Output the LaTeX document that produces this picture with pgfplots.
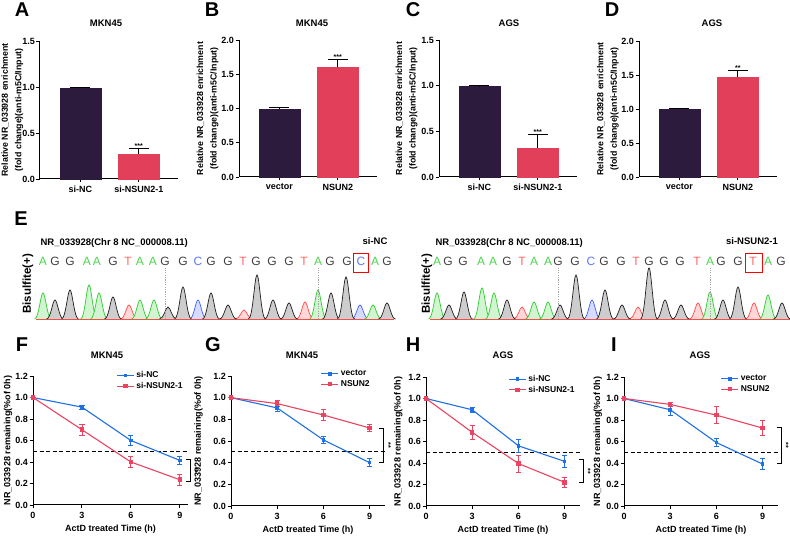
\documentclass[border=0pt]{standalone}
\usepackage{fontspec}
\setmainfont{Liberation Sans}
\usepackage{pgfplots}
\pgfplotsset{compat=1.18}

\definecolor{barDark}{HTML}{2D1B3E}
\definecolor{barRed}{HTML}{E2405A}
\definecolor{lnBlue}{HTML}{1F6FE5}
\definecolor{lnRed}{HTML}{EB4461}
\definecolor{chA}{HTML}{2ECC2E}
\definecolor{chC}{HTML}{4060FF}
\definecolor{chG}{HTML}{1E1E1E}
\definecolor{chT}{HTML}{FF4A4A}

\newcommand\fs[1]{\fontsize{#1}{#1}\selectfont}

% one chromatogram peak; its height is the mark size of the point
\pgfdeclareplotmark{peak}{%
  \pgfpathmoveto{\pgfqpoint{-8.5pt}{0pt}}%
  \pgfpathcurveto{\pgfqpoint{-4.2pt}{0pt}}{\pgfqpoint{-2.4pt}{\pgfplotmarksize}}{\pgfqpoint{0pt}{\pgfplotmarksize}}%
  \pgfpathcurveto{\pgfqpoint{2.4pt}{\pgfplotmarksize}}{\pgfqpoint{4.2pt}{0pt}}{\pgfqpoint{8.5pt}{0pt}}%
  \pgfusepathqfillstroke}

\pgfplotsset{
  panel/.style={
    scale only axis, anchor=south west, clip=false,
    axis lines*=left, axis line style={line width=1pt},
    tick align=outside, major tick length=3.5pt,
    tick style={black, line width=0.9pt},
    ymin=0,
    /pgf/number format/assume math mode=true,
    tick label style={font=\bfseries\fs{9}},
    yticklabel style={inner sep=1.5pt, /pgf/number format/fixed, /pgf/number format/fixed zerofill,
      /pgf/number format/precision=1},
  },
  enrich/.style={panel,
    width=138pt, xmin=0.31, xmax=2.67, xtick={1,2},
    ylabel={Relative NR\_033928 enrichment\\(fold change)(anti-m5C/Input)},
    ylabel style={align=center, anchor=center, font=\bfseries\fontsize{8.8}{13.5}\selectfont},
    error bars/y dir=plus, error bars/y explicit,
    error bars/error bar style={black, line width=0.9pt},
    error bars/error mark options={black, rotate=90, mark size=10pt, line width=0.9pt},
  },
  decay/.style={panel,
    width=154pt, xmin=0, xmax=10, ymax=1.2,
    xtick={0,3,6,9}, ytick={0,0.2,0.4,0.6,0.8,1.0,1.2},
    xlabel={ActD treated Time (h)},
    ylabel={NR\_033928 remaining(\%of 0h)},
    xlabel style={at={(axis description cs:0.5,0)}, anchor=center, yshift=-24pt, font=\bfseries\fs{9}},
    ylabel style={anchor=center, font=\bfseries\fs{9}},
    legend style={draw=none, fill=none, anchor=north east, font=\bfseries\fs{8.5},
      inner sep=0pt, row sep=-1pt},
    legend cell align=left,
  },
  eb/.style={error bars/y dir=both, error bars/y explicit,
    error bars/error bar style={line width=0.8pt},
    error bars/error mark options={rotate=90, mark size=2.6pt, line width=0.8pt}},
  blueline/.style={lnBlue, line width=1.1pt, mark=square*, mark size=1.2pt, eb},
  redline/.style={lnRed, line width=1.1pt, mark=square*, mark size=1.7pt, eb},
  halfline/.style={black, line width=1pt, dash pattern=on 4pt off 2.5pt, forget plot},
  peaks/.style={scatter, only marks, mark=peak,
    point meta=\thisrow{h}, point meta min=0, point meta max=60,
    scatter/use mapped color={draw=#1, fill=#1!22, line width=0.7pt},
    visualization depends on={\thisrow{h} \as \ph},
    scatter/@pre marker code/.append style={/tikz/mark size=\ph}},
}

\begin{document}
\begin{tikzpicture}
\path[use as bounding box] (0pt,0pt) rectangle (790pt,537pt);

% panel letters
\foreach \px/\py/\lt in {22/527/A, 212/527/B, 413/527/C, 612/527/D, 21/318/E,
    22/192/F, 213/192/G, 413/192/H, 614/192/I}
  \node[font=\bfseries\fs{20}] at (\px pt,\py pt) {\lt};
% panel titles
\foreach \px/\py/\tt in {106/514/MKN45, 312/514/MKN45, 509/514/AGS, 712/514/AGS,
    107/182/MKN45, 302/182/MKN45, 503/182/AGS, 700/182/AGS}
  \node[font=\bfseries\fs{9.5}] at (\px pt,\py pt) {\tt};

% ---------- A ----------
\begin{axis}[enrich, at={(40pt,358pt)}, height=138pt, ymax=1.5, ytick={0,0.5,1,1.5},
  xticklabels={si-NC,si-NSUN2-1},
  ylabel style={at={(axis description cs:-0.2,0.5)}}]
\addplot[ybar, bar width=41pt, fill=barDark, draw=barDark] coordinates {(1,0.99) +- (0,0.01)};
\addplot[ybar, bar width=41pt, fill=barRed, draw=barRed] coordinates {(2,0.27) +- (0,0.06)};
\node[anchor=base, font=\bfseries\fs{7}] at (axis cs:2,0.33) {***};
\end{axis}

% ---------- B ----------
\begin{axis}[enrich, at={(239pt,360pt)}, height=137pt, ymax=2, ytick={0,0.5,1,1.5,2},
  xticklabels={vector,NSUN2},
  ylabel style={at={(axis description cs:-0.228,0.5)}}]
\addplot[ybar, bar width=41pt, fill=barDark, draw=barDark] coordinates {(1,0.99) +- (0,0.02)};
\addplot[ybar, bar width=41pt, fill=barRed, draw=barRed] coordinates {(2,1.61) +- (0,0.10)};
\node[anchor=base, font=\bfseries\fs{7}] at (axis cs:2,1.71) {***};
\end{axis}

% ---------- C ----------
\begin{axis}[enrich, at={(439pt,360pt)}, height=137pt, ymax=1.5, ytick={0,0.5,1,1.5},
  xticklabels={si-NC,si-NSUN2-1},
  ylabel style={at={(axis description cs:-0.235,0.5)}}]
\addplot[ybar, bar width=41pt, fill=barDark, draw=barDark] coordinates {(1,0.99) +- (0,0.01)};
\addplot[ybar, bar width=41pt, fill=barRed, draw=barRed] coordinates {(2,0.32) +- (0,0.15)};
\node[anchor=base, font=\bfseries\fs{7}] at (axis cs:2,0.47) {***};
\end{axis}

% ---------- D ----------
\begin{axis}[enrich, at={(639pt,360pt)}, height=136pt, ymax=2, ytick={0,0.5,1,1.5,2},
  xticklabels={vector,NSUN2},
  ylabel style={at={(axis description cs:-0.225,0.5)}}]
\addplot[ybar, bar width=41pt, fill=barDark, draw=barDark] coordinates {(1,1.00) +- (0,0.01)};
\addplot[ybar, bar width=41pt, fill=barRed, draw=barRed] coordinates {(2,1.47) +- (0,0.10)};
\node[anchor=base, font=\bfseries\fs{7}] at (axis cs:2,1.57) {**};
\end{axis}

% ---------- E : chromatograms ----------
\begin{axis}[at={(0pt,218pt)}, anchor=south west, x=1pt, y=1pt,
  xmin=0, xmax=790, ymin=0, ymax=60, hide axis, clip=false]
\addplot[peaks=chT] table[x=x, y expr=0] {
x h
129 14
244 9
305 17
522 12
638 12
698 16
754 16
};
\addplot[peaks=chC] table[x=x, y expr=0] {
x h
198 19
360 14
592 19
};
\addplot[peaks=chA] table[x=x, y expr=0] {
x h
43 26
89 34
99 26
140 19
154 19
318 29
373 14
437 26
482 31
494 26
534 17
548 17
710 27
768 24
};
\addplot[peaks=chG] table[x=x, y expr=0] {
x h
55 19
70 29
113 22
168 12
183 32
211 26
228 14
257 44
273 19
289 16
331 26
346 42
387 16
449 14
464 27
507 19
560 14
576 44
605 29
622 14
649 51
665 19
681 14
723 19
738 32
782 16
};
\addplot[chT, line width=0.8pt] coordinates {(36,0) (394,0)};
\addplot[chT, line width=0.8pt] coordinates {(430,0) (790,0)};
\end{axis}

% sequence reads
\foreach \x/\c/\l in {43/chA/A, 55/chG/G, 70/chG/G, 87/chA/A, 97/chA/A, 113/chG/G,
    128/chT/T, 140/chA/A, 153/chA/A, 165/chG/G, 183/chG/G, 198/chC/C, 211/chG/G,
    228/chG/G, 243/chT/T, 256/chG/G, 272/chG/G, 289/chG/G, 304/chT/T, 318/chA/A,
    330/chG/G, 347/chG/G, 361/chC/C, 375/chA/A, 387/chG/G,
    437/chA/A, 448/chG/G, 463/chG/G, 481/chA/A, 493/chA/A, 507/chG/G,
    522/chT/T, 534/chA/A, 548/chA/A, 558/chG/G, 575/chG/G, 591/chC/C, 604/chG/G,
    621/chG/G, 636/chT/T, 649/chG/G, 664/chG/G, 680/chG/G, 697/chT/T, 710/chA/A,
    721/chG/G, 738/chG/G, 753/chT/T, 768/chA/A, 781/chG/G}
  \node[text=\c!85!white, font=\fs{12}] at (\x pt,276pt) {\l};
\foreach \x in {165,318,558,710}
  \draw[gray!70, line width=0.4pt, dash pattern=on 1.2pt off 1.2pt] (\x pt,218pt) -- (\x pt,269pt);
\draw[red, line width=1pt] (353pt,264pt) rectangle (368pt,283pt);
\draw[red, line width=1pt] (745pt,264pt) rectangle (762pt,283pt);
\node[anchor=west, font=\bfseries\fs{9.5}] at (37pt,294pt) {NR\_033928(Chr 8 NC\_000008.11)};
\node[anchor=west, font=\bfseries\fs{9.5}] at (432pt,294pt) {NR\_033928(Chr 8 NC\_000008.11)};
\node[font=\bfseries\fs{9.5}] at (375pt,296pt) {si-NC};
\node[font=\bfseries\fs{9.5}] at (752pt,296pt) {si-NSUN2-1};
\node[rotate=90, font=\bfseries\fs{11.5}] at (28pt,253pt) {Bisulfite(+)};
\node[rotate=90, font=\bfseries\fs{11.5}] at (427pt,253pt) {Bisulfite(+)};

% ---------- F ----------
\begin{axis}[decay, at={(33pt,32pt)}, width=155pt, height=129pt, xmax=9.5,
  ylabel style={at={(axis description cs:-0.161,0.5)}},
  legend style={at={(0.98,1.05)}}]
\addplot[halfline] coordinates {(0,0.5) (9.5,0.5)};
\addplot[blueline] coordinates {(0,1) +- (0,0) (3,0.91) +- (0,0.02) (6,0.60) +- (0,0.045) (9,0.415) +- (0,0.04)};
\addplot[redline] coordinates {(0,1) +- (0,0) (3,0.70) +- (0,0.05) (6,0.40) +- (0,0.05) (9,0.235) +- (0,0.05)};
\legend{si-NC, si-NSUN2-1}
\draw[line width=0.9pt] ([xshift=-4pt]axis cs:9.63,0.42) -- (axis cs:9.63,0.42) -- (axis cs:9.63,0.22) -- ([xshift=-4pt]axis cs:9.63,0.22);
\node[rotate=-90, font=\bfseries\fs{7}] at ([xshift=5pt]axis cs:9.63,0.32) {**};
\end{axis}

% ---------- G ----------
\begin{axis}[decay, at={(231pt,31pt)}, height=130pt,
  ylabel style={at={(axis description cs:-0.21,0.5)}},
  legend style={at={(0.915,1.06)}}]
\addplot[halfline] coordinates {(0,0.5) (10,0.5)};
\addplot[blueline] coordinates {(0,1) +- (0,0) (3,0.905) +- (0,0.035) (6,0.61) +- (0,0.035) (9,0.40) +- (0,0.035)};
\addplot[redline] coordinates {(0,1) +- (0,0) (3,0.945) +- (0,0.03) (6,0.84) +- (0,0.05) (9,0.72) +- (0,0.035)};
\legend{vector, NSUN2}
\draw[line width=0.9pt] ([xshift=-4pt]axis cs:9.9,0.72) -- (axis cs:9.9,0.72) -- (axis cs:9.9,0.40) -- ([xshift=-4pt]axis cs:9.9,0.40);
\node[rotate=-90, font=\bfseries\fs{7}] at ([xshift=5pt]axis cs:9.9,0.56) {**};
\end{axis}

% ---------- H ----------
\begin{axis}[decay, at={(426pt,31pt)}, height=129pt,
  ylabel style={at={(axis description cs:-0.18,0.5)}},
  legend style={at={(0.98,1.03)}}]
\addplot[halfline] coordinates {(0,0.5) (10,0.5)};
\addplot[blueline] coordinates {(0,1) +- (0,0) (3,0.895) +- (0,0.02) (6,0.56) +- (0,0.06) (9,0.415) +- (0,0.06)};
\addplot[redline] coordinates {(0,1) +- (0,0) (3,0.685) +- (0,0.065) (6,0.395) +- (0,0.08) (9,0.22) +- (0,0.05)};
\legend{si-NC, si-NSUN2-1}
\draw[line width=0.9pt] ([xshift=-4pt]axis cs:10.2,0.43) -- (axis cs:10.2,0.43) -- (axis cs:10.2,0.215) -- ([xshift=-4pt]axis cs:10.2,0.215);
\node[rotate=-90, font=\bfseries\fs{7}] at ([xshift=5pt]axis cs:10.2,0.32) {**};
\end{axis}

% ---------- I ----------
\begin{axis}[decay, at={(624pt,31pt)}, height=129pt,
  ylabel style={at={(axis description cs:-0.17,0.5)}},
  legend style={at={(0.96,1.03)}}]
\addplot[halfline] coordinates {(0,0.5) (10,0.5)};
\addplot[blueline] coordinates {(0,1) +- (0,0) (3,0.895) +- (0,0.05) (6,0.59) +- (0,0.035) (9,0.39) +- (0,0.05)};
\addplot[redline] coordinates {(0,1) +- (0,0) (3,0.945) +- (0,0.015) (6,0.845) +- (0,0.08) (9,0.725) +- (0,0.07)};
\legend{vector, NSUN2}
\draw[line width=0.9pt] ([xshift=-4pt]axis cs:10.2,0.73) -- (axis cs:10.2,0.73) -- (axis cs:10.2,0.40) -- ([xshift=-4pt]axis cs:10.2,0.40);
\node[rotate=-90, font=\bfseries\fs{7}] at ([xshift=5pt]axis cs:10.2,0.565) {**};
\end{axis}
\end{tikzpicture}
\end{document}
